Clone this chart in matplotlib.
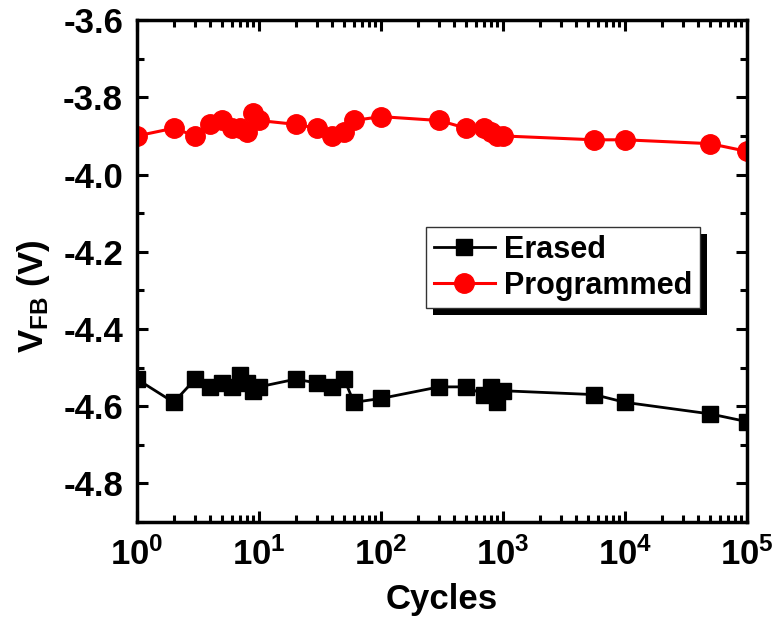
import math
import matplotlib
matplotlib.use("Agg")
import matplotlib.pyplot as plt
from matplotlib.ticker import LogLocator, MultipleLocator, FuncFormatter, NullFormatter
from matplotlib.patches import Rectangle
from matplotlib.transforms import IdentityTransform

plt.rcParams['font.family'] = ['Liberation Sans', 'DejaVu Sans']
plt.rcParams['font.weight'] = 'bold'
plt.rcParams['mathtext.fontset'] = 'custom'
plt.rcParams['mathtext.rm'] = 'Liberation Sans:bold'
plt.rcParams['mathtext.bf'] = 'Liberation Sans:bold'
plt.rcParams['mathtext.it'] = 'Liberation Sans:bold'
plt.rcParams['mathtext.default'] = 'bf'

# Data
erased_cycles = [1, 2, 3, 4, 5, 6, 7, 8, 9, 10, 20, 30, 40, 50, 60, 100, 300, 500, 700, 800, 900, 1000, 5600, 10000, 50000, 100000]
erased_vfb = [-4.53, -4.59, -4.53, -4.55, -4.54, -4.55, -4.52, -4.54, -4.56, -4.55, -4.53, -4.54, -4.55, -4.53, -4.59, -4.58, -4.55, -4.55, -4.57, -4.55, -4.59, -4.56, -4.57, -4.59, -4.62, -4.64]

prog_cycles = [1, 2, 3, 4, 5, 6, 7, 8, 9, 10, 20, 30, 40, 50, 60, 100, 300, 500, 700, 800, 900, 1000, 5600, 10000, 50000, 100000]
prog_vfb = [-3.90, -3.88, -3.90, -3.87, -3.86, -3.88, -3.88, -3.89, -3.84, -3.86, -3.87, -3.88, -3.90, -3.89, -3.86, -3.85, -3.86, -3.88, -3.88, -3.89, -3.90, -3.90, -3.91, -3.91, -3.92, -3.94]

fig = plt.figure(figsize=(7.76, 6.25), dpi=100)
ax = fig.add_axes([0.1765, 0.1648, 0.786, 0.803])

ax.plot(erased_cycles, erased_vfb, color='black', lw=2, marker='s', ms=12, label='Erased')
ax.plot(prog_cycles, prog_vfb, color='red', lw=2.2, marker='o', ms=14, label='Programmed')

ax.set_xscale('log')
ax.set_xlim(1, 1e5)
ax.set_ylim(-4.9, -3.6)

ax.xaxis.set_major_locator(LogLocator(base=10, numticks=10))
ax.xaxis.set_minor_locator(LogLocator(base=10, subs=range(2, 10), numticks=20))
ax.xaxis.set_minor_formatter(NullFormatter())
ax.xaxis.set_major_formatter(FuncFormatter(lambda v, p: r'$\mathbf{10^{%d}}$' % round(math.log10(v))))
ax.yaxis.set_major_locator(MultipleLocator(0.2))
ax.yaxis.set_minor_locator(MultipleLocator(0.1))
ax.yaxis.set_major_formatter(FuncFormatter(lambda v, p: '%.1f' % v))

for s in ax.spines.values():
    s.set_linewidth(2.5)
ax.tick_params(which='both', direction='in', top=True, right=True, width=2.2, labelsize=25)
ax.tick_params(which='major', length=8)
ax.tick_params(which='minor', length=5)
ax.tick_params(axis='x', which='major', pad=11)
ax.tick_params(axis='y', which='major', pad=10)
for lab in ax.get_xticklabels() + ax.get_yticklabels():
    lab.set_fontweight('bold')

ax.set_xlabel('Cycles', fontsize=25, fontweight='bold', labelpad=8)
ax.set_ylabel(r'$\mathbf{V_{FB}}$ (V)', fontsize=25, fontweight='bold')
ax.yaxis.set_label_coords(-0.139, 0.45)

leg = ax.legend(loc='upper left', bbox_to_anchor=(0.474, 0.588), borderaxespad=0,
                fontsize=22, handlelength=2.0, handletextpad=0.3, labelspacing=0.2,
                borderpad=0.25, fancybox=False, edgecolor='#333333', framealpha=1)
leg.get_frame().set_linewidth(1)
for t in leg.get_texts():
    t.set_fontweight('bold')

fig.canvas.draw()
bb = leg.get_window_extent()
shadow = Rectangle((bb.x0 + 7, bb.y0 - 7), bb.width, bb.height, transform=IdentityTransform(),
                   facecolor='black', edgecolor='none', zorder=leg.get_zorder() - 0.1, clip_on=False)
ax.add_artist(shadow)

fig.savefig('out.png', dpi=100)
